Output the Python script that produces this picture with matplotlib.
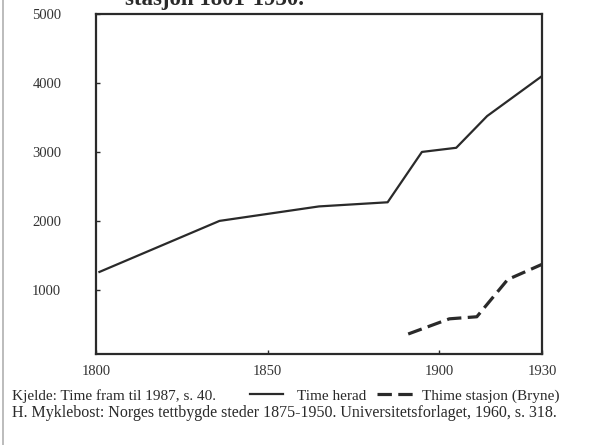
import numpy as np
import matplotlib
matplotlib.use('Agg')
import matplotlib.pyplot as plt
from matplotlib.lines import Line2D

plt.rcParams['font.family'] = ['Liberation Serif', 'DejaVu Serif']

# Time herad (solid)
herad_years = [1801, 1836, 1865, 1885, 1895, 1905, 1914, 1930]
herad_pop = [1260, 2000, 2210, 2270, 3000, 3060, 3520, 4100]

# Thime stasjon / Bryne (dashed)
stasjon_years = [1891, 1903, 1911, 1920, 1930]
stasjon_pop = [360, 580, 610, 1150, 1370]

xticks = [1800, 1850, 1900, 1930]
yticks = [1000, 2000, 3000, 4000, 5000]

ink = '#2a2a2a'
dash = (0, (4.5, 2))

fig = plt.figure(figsize=(5.95, 4.45), dpi=100)
ax = fig.add_axes([96/595, 1-354/445, (542-96)/595, (354-14)/445])

ax.plot(herad_years, herad_pop, color=ink, lw=1.6, solid_joinstyle='round')
ax.plot(stasjon_years, stasjon_pop, color=ink, lw=2.3, linestyle=dash)

ax.set_xlim(1800, 1930)
ax.set_ylim(70, 5000)
ax.set_xticks(xticks)
ax.set_yticks(yticks)
ax.tick_params(direction='in', length=3, width=1, color=ink, labelsize=10.5,
               labelcolor='#333333')
ax.tick_params(axis='y', pad=25)
ax.tick_params(axis='x', pad=8)
for s in ax.spines.values():
    s.set_linewidth(1.6)
    s.set_color(ink)

# cut-off title at top
fig.text(125/595, 1-5/445, 'stasjon 1801-1930.', fontsize=16.5, fontweight='bold',
         color=ink, va='baseline', ha='left')

# footer: source and legend
fs = 11
fig.text(12/595, 1-396/445, 'Kjelde: Time fram til 1987, s. 40.', fontsize=fs,
         color=ink, va='center', ha='left')
fig.add_artist(Line2D([250/595, 283/595], [1-394/445, 1-394/445], color=ink, lw=1.6))
fig.text(297/595, 1-396/445, 'Time herad', fontsize=fs, color=ink, va='center', ha='left')
fig.add_artist(Line2D([377/595, 416/595], [1-394/445, 1-394/445], color=ink, lw=2.3,
                      linestyle=dash))
fig.text(422/595, 1-396/445, 'Thime stasjon (Bryne)', fontsize=fs, color=ink,
         va='center', ha='left')
fig.text(12/595, 1-413/445,
         'H. Myklebost: Norges tettbygde steder 1875-1950. Universitetsforlaget, 1960, s. 318.',
         fontsize=11.5, color=ink, va='center', ha='left')

# page edge on the left
fig.add_artist(Line2D([3/595, 3/595], [0, 1], color='#b0b0b0', lw=1.2))

fig.savefig('out.png', dpi=100)
